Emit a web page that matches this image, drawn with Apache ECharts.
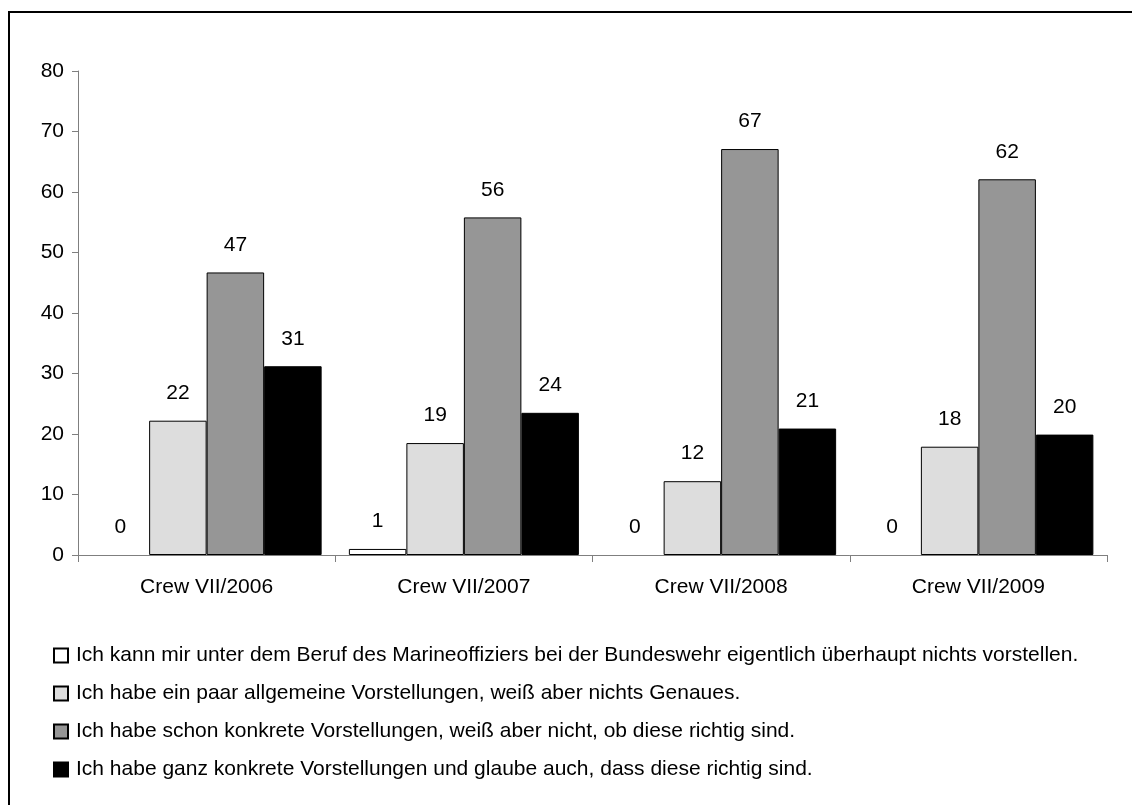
<!DOCTYPE html>
<html>
<head>
<meta charset="utf-8">
<script src="https://cdn.jsdelivr.net/npm/echarts@6/dist/echarts.min.js"></script>
<style>
html,body{margin:0;padding:0;background:#fff;}
#chart{width:1132px;height:805px;}
</style>
</head>
<body>
<div id="chart"></div>
<script>
const categories = ["Crew VII/2006", "Crew VII/2007", "Crew VII/2008", "Crew VII/2009"];
const seriesNames = [
  "Ich kann mir unter dem Beruf des Marineoffiziers bei der Bundeswehr eigentlich überhaupt nichts vorstellen.",
  "Ich habe ein paar allgemeine Vorstellungen, weiß aber nichts Genaues.",
  "Ich habe schon konkrete Vorstellungen, weiß aber nicht, ob diese richtig sind.",
  "Ich habe ganz konkrete Vorstellungen und glaube auch, dass diese richtig sind."
];
const nothing = [0, 1.0, 0, 0];
const general = [22.2, 18.5, 12.2, 17.9];
const concreteUnsure = [46.7, 55.8, 67.1, 62.1];
const concreteSure = [31.2, 23.5, 20.9, 19.9];
const yTicks = {min: 0, max: 80, interval: 10};

const colors = ["#ffffff", "#dddddd", "#969696", "#000000"];
const FONT = "'Liberation Sans', Arial, sans-serif";
const FS = 21;

const chart = echarts.init(document.getElementById('chart'));
const dataSets = [nothing, general, concreteUnsure, concreteSure];
const series = dataSets.map((d, i) => ({
  name: seriesNames[i],
  type: 'bar',
  data: d.map(v => ({value: v, itemStyle: {borderWidth: v === 0 ? 0 : 1}})),
  barWidth: 57.5,
  barGap: '0%',
  itemStyle: {color: colors[i], borderColor: '#000', borderWidth: 1},
  label: {
    show: true,
    position: 'top',
    distance: 17,
    color: '#000',
    fontFamily: FONT,
    fontSize: FS,
    formatter: p => String(Math.round(p.value))
  },
  emphasis: {disabled: true}
}));

chart.setOption({
  animation: false,
  backgroundColor: '#fff',
  textStyle: {fontFamily: FONT},
  graphic: [{
    type: 'rect',
    shape: {x: 9, y: 12, width: 1300, height: 1000},
    style: {fill: 'none', stroke: '#000', lineWidth: 2},
    silent: true
  }],
  grid: {left: 78, right: 25, top: 71, bottom: 250, containLabel: false},
  legend: {
    orient: 'vertical',
    left: 53,
    top: 645,
    padding: 0,
    itemWidth: 14,
    itemHeight: 14,
    itemGap: 17,
    icon: 'rect',
    selectedMode: false,
    textStyle: {fontFamily: FONT, fontSize: FS, color: '#000', padding: [0, 0, 0, 3]},
    data: seriesNames
  },
  xAxis: {
    type: 'category',
    data: categories,
    axisLine: {lineStyle: {color: '#7f7f7f', width: 1}},
    axisTick: {show: true, length: 7, lineStyle: {color: '#7f7f7f'}},
    axisLabel: {color: '#000', fontFamily: FONT, fontSize: FS, margin: 22},
    splitLine: {show: false}
  },
  yAxis: {
    type: 'value',
    min: yTicks.min,
    max: yTicks.max,
    interval: yTicks.interval,
    axisLine: {show: true, lineStyle: {color: '#7f7f7f', width: 1}},
    axisTick: {show: true, length: 6, lineStyle: {color: '#7f7f7f'}},
    axisLabel: {color: '#000', fontFamily: FONT, fontSize: FS, margin: 14},
    splitLine: {show: false}
  },
  series: series
});
</script>
</body>
</html>
